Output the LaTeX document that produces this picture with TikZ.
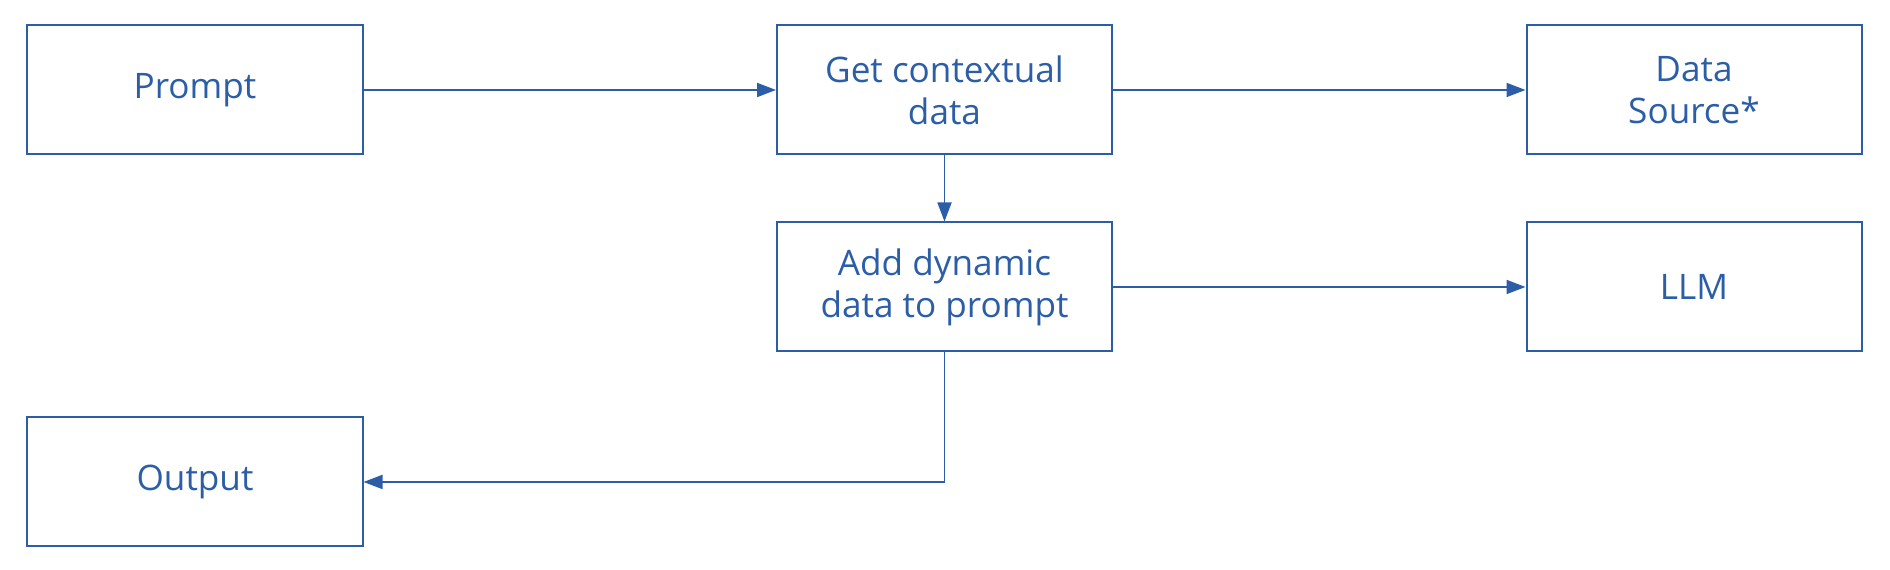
\documentclass[tikz,border=0pt]{standalone}
\usepackage{fontspec}
\setmainfont{Open Sans}
\usetikzlibrary{positioning,arrows.meta}
\definecolor{flowblue}{HTML}{2B5EA7}

\begin{document}
\begin{tikzpicture}[
                    box/.style={draw=flowblue,line width=0.02cm,minimum width=3.35cm,
                        minimum height=1.29cm,align=center,text=flowblue,
                        font=\fontsize{10pt}{12pt}\selectfont},
                    link/.style={draw=flowblue,line width=0.018cm,
                        -{Triangle[length=0.19cm,width=0.14cm]}}
                ]
                \useasboundingbox (0,0) rectangle (18.9,5.7);
                % top row, then the two boxes under it
                \node[box] (prompt) at (1.95,4.80) {Prompt};
                \node[box,right=4.125cm of prompt] (ctx) {Get contextual\\data};
                \node[box,right=4.125cm of ctx] (src) {Data\\Source*};
                \node[box,below=0.66cm of ctx] (dyn) {Add dynamic\\data to prompt};
                \node[box,right=4.125cm of dyn] (llm) {LLM};
                \node[box,below=2.61cm of prompt] (output) {Output};

                \draw[link] (prompt) -- (ctx);
                \draw[link] (ctx) -- (src);
                \draw[link] (ctx) -- (dyn);
                \draw[link] (dyn) -- (llm);
                \draw[link] (dyn.south) |- (output.east);
            \end{tikzpicture}
\end{document}
